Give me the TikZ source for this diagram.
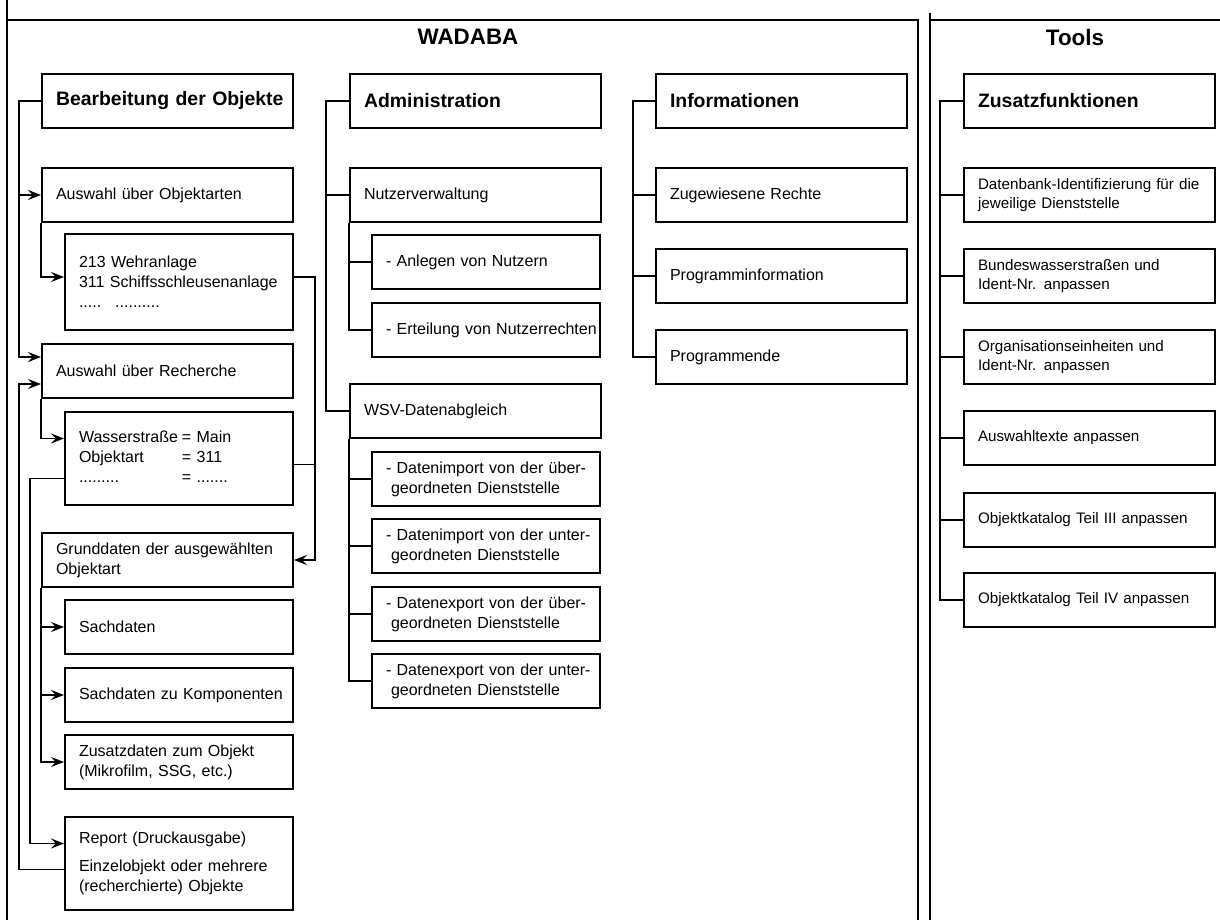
\documentclass[tikz,border=0pt]{standalone}
\usepackage{fontspec}
\setmainfont{Liberation Sans}
\usetikzlibrary{arrows.meta}

\tikzstyle{frame}=[draw,line width=1pt]
\tikzstyle{title}=[font=\bfseries\fontsize{11.2}{13}\selectfont]
\tikzstyle{main box}=[draw,line width=1pt,anchor=north west,minimum height=27pt,text width=111.5pt,inner xsep=7pt,align=left,font=\fontsize{8}{10}\selectfont,execute at begin node={\rightskip=-30pt plus 1fil\relax}]
\tikzstyle{head box}=[main box,font=\bfseries\fontsize{9.7}{11}\selectfont]
\tikzstyle{sub box}=[main box,text width=100pt]
\tikzstyle{tool box}=[main box,font=\fontsize{7.6}{9.5}\selectfont]
\tikzstyle{link}=[draw,line width=0.8pt]
\tikzstyle{arrow link}=[draw,line width=0.8pt,-{Stealth[length=6.5pt,width=5pt,inset=2.5pt]}]

\begin{document}
\begin{tikzpicture}[x=0.5pt,y=-0.5pt]
    \useasboundingbox (0,0) rectangle (1220,920);

    % frames
    \draw[frame] (7,0) -- (7,920);
    \draw[frame] (7,20) -- (918,20) -- (918,920);
    \draw[frame] (930,13) -- (930,920);
    \draw[frame] (930,20) -- (1220,20);
    \node[title] (wadaba) at (468,37) {WADABA};
    \node[title] (tools) at (1075,37) {Tools};

    % Bearbeitung der Objekte
    \node[head box] (bearb) at (41,73) {Bearbeitung der Objekte};
    \node[main box] (objart) at (41,167) {Auswahl über Objektarten};
    \node[sub box,minimum height=48pt] (wehr) at (64,233)
        {213 Wehranlage\\311 Schiffsschleusenanlage\\.....\hspace{7pt}..........};
    \node[main box] (recherche) at (41,343) {Auswahl über Recherche};
    \node[sub box,minimum height=46.5pt] (wass) at (64,411)
        {\begin{tabular}{@{}l@{\hspace{2pt}}l@{}}
         Wasserstraße & = Main\\
         Objektart & = 311\\
         ......... & = .......
         \end{tabular}};
    \node[main box] (grund) at (41,532) {Grunddaten der ausgewählten\\Objektart};
    \foreach \pos/\name/\txt in {{(64,599)/sach/Sachdaten},
        {(64,667)/komp/Sachdaten zu Komponenten},
        {(64,734)/zusatz/{Zusatzdaten zum Objekt\\(Mikrofilm, SSG, etc.)}}}
    \node[sub box] (\name) at \pos {\txt};
    \node[sub box,minimum height=46.5pt] (report) at (64,816)
        {Report (Druckausgabe)\\[4pt]Einzelobjekt oder mehrere\\(recherchierte) Objekte};

    % Administration
    \node[head box] (admin) at (349,73) {Administration};
    \node[main box] (nutzer) at (349,167) {Nutzerverwaltung};
    \node[sub box] (anlegen) at (371,234) {- Anlegen von Nutzern};
    \node[sub box] (erteil) at (371,302) {- Erteilung von Nutzerrechten};
    \node[main box] (wsv) at (349,383) {WSV-Datenabgleich};
    \foreach \pos/\name/\txt in {{(371,451)/impueber/{- Datenimport von der über-\\\hspace*{2.5pt}geordneten Dienststelle}},
        {(371,518)/impunter/{- Datenimport von der unter-\\\hspace*{2.5pt}geordneten Dienststelle}},
        {(371,586)/expueber/{- Datenexport von der über-\\\hspace*{2.5pt}geordneten Dienststelle}},
        {(371,653)/expunter/{- Datenexport von der unter-\\\hspace*{2.5pt}geordneten Dienststelle}}}
    \node[sub box] (\name) at \pos {\txt};

    % Informationen
    \node[head box] (info) at (655,73) {Informationen};
    \foreach \pos/\name/\txt in {{(655,167)/rechte/Zugewiesene Rechte},
        {(655,248)/proginfo/Programminformation}, {(655,329)/progende/Programmende}}
    \node[main box] (\name) at \pos {\txt};

    % Tools
    \node[head box] (zusatzfkt) at (963,73) {Zusatzfunktionen};
    \foreach \pos/\name/\txt in {{(963,167)/dbident/{Datenbank-Identifizierung für die\\jeweilige Dienststelle}},
        {(963,248)/bws/{Bundeswasserstraßen und\\Ident-Nr. anpassen}},
        {(963,329)/orga/{Organisationseinheiten und\\Ident-Nr. anpassen}},
        {(963,410)/texte/Auswahltexte anpassen},
        {(963,492)/katdrei/Objektkatalog Teil III anpassen},
        {(963,572)/katvier/Objektkatalog Teil IV anpassen}}
    \node[tool box] (\name) at \pos {\txt};

    % Connect boxes
    \path[arrow link] (bearb.west) -- ++(-22,0) |- (objart.west);
    \path[arrow link] (bearb.west) -- ++(-22,0) |- ([yshift=7pt]recherche.west);
    \path[arrow link] (objart.south west) |- ([yshift=2.5pt]wehr.west);
    \path[arrow link] (recherche.south west) |- ([yshift=10pt]wass.west);
    \path[arrow link] ([yshift=2.5pt]wehr.east) -- ++(21,0) |- (grund.east);
    \path[link] ([yshift=-3pt]wass.east) -- ++(21,0);
    \path[arrow link] ([yshift=-10pt]wass.west) -- ++(-34,0) |- ([yshift=10pt]report.west);
    \path[arrow link] ([yshift=-3pt]report.west) -- ++(-45,0) |- ([yshift=-6.5pt]recherche.west);
    \foreach \dest in {sach, komp, zusatz}
    \path[arrow link] (grund.south west) |- (\dest.west);

    \foreach \dest in {nutzer, wsv}
    \path[link] (admin.west) -- ++(-23,0) |- (\dest.west);
    \foreach \dest in {anlegen, erteil}
    \path[link] (nutzer.south west) |- (\dest.west);
    \foreach \dest in {impueber, impunter, expueber, expunter}
    \path[link] (wsv.south west) |- (\dest.west);

    \foreach \dest in {rechte, proginfo, progende}
    \path[link] (info.west) -- ++(-22,0) |- (\dest.west);

    \foreach \dest in {dbident, bws, orga, texte, katdrei, katvier}
    \path[link] (zusatzfkt.west) -- ++(-23,0) |- (\dest.west);

\end{tikzpicture}
\end{document}
